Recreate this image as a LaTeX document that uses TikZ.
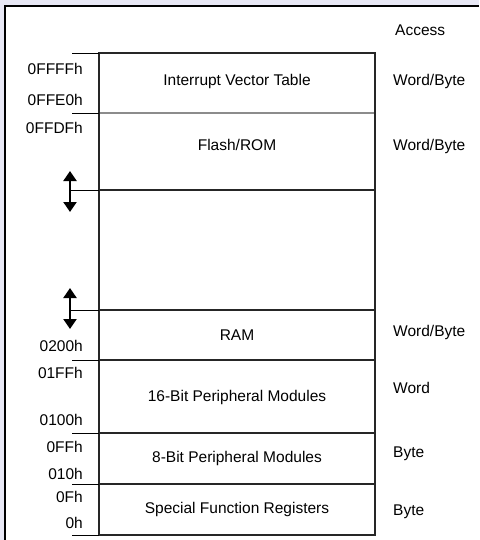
\documentclass[tikz,border=0pt]{standalone}
\usepackage{fontspec}
\setmainfont{Liberation Sans}
\usetikzlibrary{arrows.meta}
\definecolor{framebg}{HTML}{E8E8F5}

\begin{document}
\begin{tikzpicture}[x=1pt, y=-1pt, font=\fontsize{15.5}{18}\selectfont,
    mapline/.style={line width=2pt, draw=black!85},
    softline/.style={line width=1.5pt, draw=black!45},
    tick/.style={line width=0.8pt},
    region/.style={inner sep=0pt},
    addr/.style={anchor=east, inner sep=0pt},
    acc/.style={anchor=west, inner sep=0pt},
    spanarrow/.style={line width=2.2pt, {Triangle[width=13pt,length=10pt]}-{Triangle[width=13pt,length=10pt]}}]
  \useasboundingbox (0,0) rectangle (479,540);
  % Frame
  \fill[framebg] (0,0) rectangle (479,540);
  \fill[white] (5,6) rectangle (479,540);
  \draw[line width=1.4pt] (5,540) -- (5,6) -- (479,6);

  % Boundaries of the map
  \coordinate (top) at (98.5,53);
  \coordinate (bot) at (375,535);
  \draw[softline] (98.5,113) -- (375,113);
  \foreach \y in {190,310,360,433,484}
    \draw[mapline] (98.5,\y) -- (375,\y);
  \draw[mapline] (top) rectangle (bot);

  % Address ticks
  \foreach \y in {53,113,360,433,484,535}
    \draw[tick] (72,\y) -- (98.5,\y);
  \foreach \y in {190,310}
    \draw[tick] (70,\y) -- (98.5,\y);
  \draw[spanarrow] (70,171) -- (70,212);
  \draw[spanarrow] (70,288) -- (70,329);

  % Regions
  \node[region] (ivt) at (237,81) {Interrupt Vector Table};
  \node[region] (flash) at (237,145) {Flash/ROM};
  \node[region] (ram) at (237,335) {RAM};
  \node[region] (per16) at (237,397) {16-Bit Peripheral Modules};
  \node[region] (per8) at (237,458) {8-Bit Peripheral Modules};
  \node[region] (sfr) at (237,509) {Special Function Registers};

  % Addresses
  \node[addr] (a1) at (83,69) {0FFFFh};
  \node[addr] (a2) at (83,100) {0FFE0h};
  \node[addr] (a3) at (83,128) {0FFDFh};
  \node[addr] (a4) at (83,346) {0200h};
  \node[addr] (a5) at (83,373) {01FFh};
  \node[addr] (a6) at (83,420) {0100h};
  \node[addr] (a7) at (83,447) {0FFh};
  \node[addr] (a8) at (83,474) {010h};
  \node[addr] (a9) at (83,497) {0Fh};
  \node[addr] (a10) at (83,523) {0h};

  % Access
  \node[acc] (access) at (395,30) {Access};
  \node[acc] (acc1) at (393,81) {Word/Byte};
  \node[acc] (acc2) at (393,146) {Word/Byte};
  \node[acc] (acc3) at (393,332) {Word/Byte};
  \node[acc] (acc4) at (393,388) {Word};
  \node[acc] (acc5) at (393,454) {Byte};
  \node[acc] (acc6) at (393,512) {Byte};
\end{tikzpicture}
\end{document}
